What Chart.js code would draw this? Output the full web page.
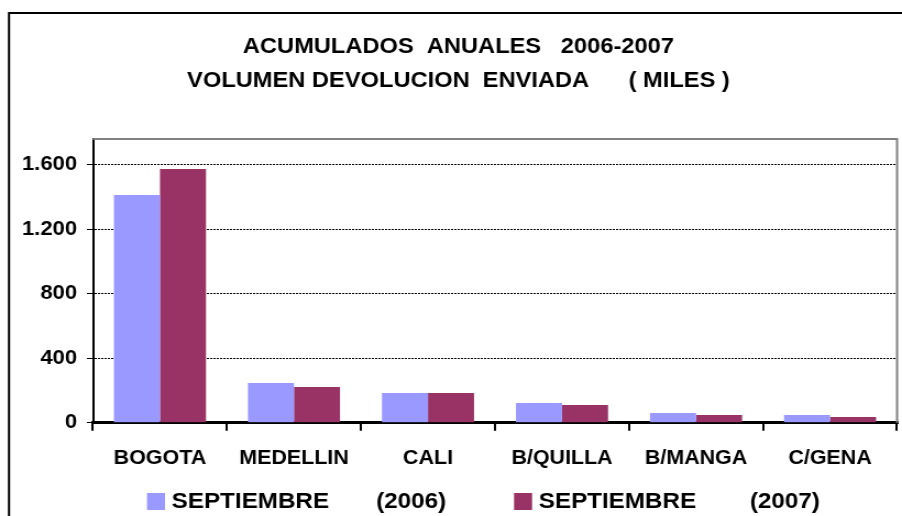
<!DOCTYPE html>
<html>
<head>
<meta charset="utf-8">
<script src="https://cdn.jsdelivr.net/npm/chart.js@4.4.1/dist/chart.umd.min.js"></script>
<style>
  html, body { margin: 0; padding: 0; background: #ffffff; overflow: hidden; }
</style>
</head>
<body>
<canvas id="c" width="820" height="516" style="display:block;width:902px;height:516px;"></canvas>
<script>
// ---- data ----
const categories = ['BOGOTA', 'MEDELLIN', 'CALI', 'B/QUILLA', 'B/MANGA', 'C/GENA'];
const seriesLabels = ['SEPTIEMBRE       (2006)', 'SEPTIEMBRE        (2007)'];
const values2006 = [1412, 246, 184, 122, 60, 48];
const values2007 = [1573, 221, 184, 110, 48, 35];
const yTickValues = [0, 400, 800, 1200, 1600];
const yTickLabels = ['0', '400', '800', '1.200', '1.600'];
const titleLines = ['ACUMULADOS  ANUALES   2006-2007', 'VOLUMEN DEVOLUCION  ENVIADA      ( MILES )'];

const FONT = '"Liberation Sans", Arial, sans-serif';

const framePlugin = {
  id: 'frame',
  beforeDraw(chart) {
    const ctx = chart.ctx;
    ctx.save();
    ctx.fillStyle = '#ffffff';
    ctx.fillRect(0, 0, chart.width, chart.height);
    // outer chart border (clipped on right/bottom in the reference)
    ctx.strokeStyle = '#000000';
    ctx.lineWidth = 2;
    ctx.beginPath();
    ctx.moveTo(8.2, chart.height + 5);
    ctx.lineTo(8.2, 13);
    ctx.lineTo(chart.width + 5, 13);
    ctx.stroke();
    ctx.restore();
  },
  beforeDatasetsDraw(chart) {
    const a = chart.chartArea;
    const ctx = chart.ctx;
    ctx.save();
    ctx.strokeStyle = '#808080';
    ctx.lineWidth = 2;
    ctx.beginPath();
    ctx.moveTo(a.left, a.top);
    ctx.lineTo(a.right, a.top);
    ctx.lineTo(a.right, a.bottom);
    ctx.stroke();
    ctx.restore();
  },
  afterDraw(chart) {
    const ctx = chart.ctx;
    const legendX = [133.6, 467.3];
    ctx.save();
    ctx.font = 'bold 22px ' + FONT;
    ctx.textBaseline = 'middle';
    ctx.textAlign = 'left';
    chart.data.datasets.forEach((ds, i) => {
      ctx.fillStyle = ds.backgroundColor;
      ctx.fillRect(legendX[i], 493, 16.4, 17);
      ctx.fillStyle = '#000000';
      ctx.fillText(ds.label, legendX[i] + 22.5, 502);
    });
    ctx.restore();
  }
};

new Chart(document.getElementById('c'), {
  type: 'bar',
  data: {
    labels: categories,
    datasets: [
      { label: seriesLabels[0], data: values2006, backgroundColor: '#9999FF', borderWidth: 0 },
      { label: seriesLabels[1], data: values2007, backgroundColor: '#993366', borderWidth: 0 }
    ]
  },
  options: {
    responsive: false,
    animation: false,
    devicePixelRatio: 1,
    layout: { padding: { left: 18, right: 4.5, top: 0, bottom: 43.3 } },
    datasets: { bar: { categoryPercentage: 0.687, barPercentage: 1.0 } },
    plugins: {
      legend: { display: false },
      tooltip: { enabled: false },
      title: {
        display: true,
        text: titleLines,
        color: '#000000',
        font: { family: FONT, size: 21.5, weight: 'bold', lineHeight: 1.58 },
        padding: { top: 30, bottom: 41 }
      }
    },
    scales: {
      x: {
        afterFit(scale) { scale.height = 50; },
        grid: { display: true, drawOnChartArea: false, drawTicks: true, tickLength: 8, color: '#000000', lineWidth: 2, offset: true },
        border: { display: true, color: '#000000', width: 3 },
        ticks: { color: '#000000', padding: 16, font: { family: FONT, size: 19.5, weight: 'bold' }, maxRotation: 0, autoSkip: false }
      },
      y: {
        min: 0,
        max: 1760,
        afterFit(scale) { scale.width = 66.5; },
        afterBuildTicks(scale) { scale.ticks = yTickValues.map(v => ({ value: v })); },
        grid: { display: true, drawOnChartArea: true, drawTicks: true, tickLength: 5.5, color: '#000000', lineWidth: 1 },
        border: { display: true, color: '#000000', width: 2, dash: [2, 1] },
        ticks: {
          color: '#000000',
          padding: 9,
          font: { family: FONT, size: 20, weight: 'bold' },
          callback(v) { const i = yTickValues.indexOf(v); return i >= 0 ? yTickLabels[i] : ''; }
        }
      }
    }
  },
  plugins: [framePlugin]
});
</script>
</body>
</html>
